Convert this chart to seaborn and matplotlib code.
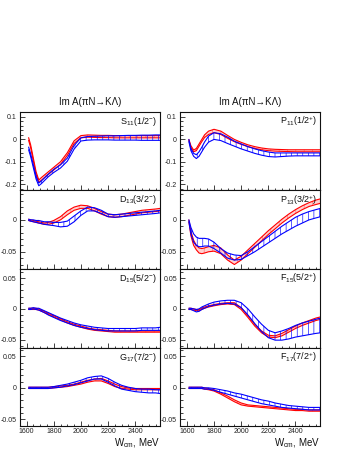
import matplotlib
matplotlib.use("Agg")
import matplotlib.pyplot as plt
from matplotlib.ticker import MultipleLocator, FuncFormatter
import pandas as pd
import seaborn as sns

# energy grid (MeV)
W = [1615, 1630, 1650, 1670, 1690, 1710, 1730, 1760, 1800, 1850, 1900, 1950, 2000,
     2050, 2100, 2150, 2200, 2250, 2300, 2350, 2400, 2450, 2500, 2550, 2585]

# S11(1/2-)
s11_red_lo = [-0.004, -0.036, -0.096, -0.156, -0.190, -0.181, -0.171, -0.156, -0.136, -0.111, -0.071, -0.018, 0.007,
              0.010, 0.009, 0.008, 0.008, 0.007, 0.007, 0.007, 0.007, 0.007, 0.007, 0.007, 0.007]
s11_red_hi = [0.008, -0.024, -0.084, -0.144, -0.180, -0.169, -0.159, -0.144, -0.124, -0.099, -0.059, -0.006, 0.017,
              0.020, 0.019, 0.018, 0.018, 0.017, 0.017, 0.017, 0.017, 0.017, 0.017, 0.017, 0.017]
s11_blue_lo = [-0.046, -0.076, -0.126, -0.176, -0.206, -0.196, -0.184, -0.166, -0.147, -0.127, -0.097, -0.043, -0.007,
               -0.003, -0.002, -0.002, -0.002, -0.003, -0.003, -0.003, -0.003, -0.004, -0.004, -0.004, -0.004]
s11_blue_hi = [-0.034, -0.064, -0.114, -0.164, -0.194, -0.184, -0.172, -0.154, -0.133, -0.113, -0.083, -0.027, 0.007,
               0.013, 0.014, 0.015, 0.016, 0.016, 0.017, 0.018, 0.018, 0.019, 0.019, 0.020, 0.020]

# P11(1/2+)
p11_red_lo = [-0.005, -0.035, -0.055, -0.050, -0.030, -0.010, 0.008, 0.022, 0.030, 0.022, 0.005, -0.010, -0.022,
              -0.032, -0.040, -0.046, -0.050, -0.052, -0.053, -0.054, -0.055, -0.055, -0.055, -0.055, -0.055]
p11_red_hi = [0.000, -0.028, -0.047, -0.040, -0.020, 0.000, 0.020, 0.037, 0.045, 0.037, 0.018, 0.000, -0.013,
              -0.024, -0.032, -0.038, -0.042, -0.044, -0.045, -0.046, -0.046, -0.046, -0.046, -0.046, -0.046]
p11_blue_lo = [-0.010, -0.050, -0.075, -0.085, -0.075, -0.055, -0.035, -0.012, 0.000, -0.005, -0.018, -0.030, -0.042,
               -0.052, -0.062, -0.070, -0.076, -0.078, -0.076, -0.074, -0.073, -0.073, -0.073, -0.073, -0.073]
p11_blue_hi = [0.000, -0.040, -0.062, -0.068, -0.055, -0.035, -0.012, 0.015, 0.030, 0.025, 0.010, -0.008, -0.020,
               -0.032, -0.042, -0.050, -0.056, -0.060, -0.060, -0.060, -0.060, -0.060, -0.060, -0.060, -0.060]

# D13(3/2-)
d13_red_lo = [-0.001, -0.002, -0.003, -0.004, -0.005, -0.006, -0.007, -0.007, -0.005, 0.000, 0.008, 0.015, 0.018,
              0.018, 0.014, 0.009, 0.005, 0.004, 0.005, 0.007, 0.009, 0.011, 0.012, 0.013, 0.014]
d13_red_hi = [0.001, 0.000, -0.001, -0.002, -0.003, -0.004, -0.005, -0.004, -0.001, 0.005, 0.014, 0.020, 0.023,
              0.022, 0.018, 0.013, 0.009, 0.008, 0.009, 0.011, 0.013, 0.015, 0.016, 0.017, 0.018]
d13_blue_lo = [-0.001, -0.002, -0.003, -0.004, -0.005, -0.006, -0.007, -0.008, -0.009, -0.011, -0.010, -0.003, 0.007,
               0.014, 0.014, 0.010, 0.005, 0.004, 0.005, 0.006, 0.007, 0.008, 0.009, 0.010, 0.011]
d13_blue_hi = [0.001, 0.000, 0.000, -0.001, -0.001, -0.002, -0.003, -0.003, -0.004, -0.004, -0.002, 0.006, 0.014,
               0.020, 0.019, 0.015, 0.009, 0.008, 0.009, 0.010, 0.011, 0.012, 0.013, 0.014, 0.015]

# P13(3/2+)
p13_red_lo = [-0.003, -0.025, -0.040, -0.047, -0.052, -0.053, -0.052, -0.050, -0.049, -0.053, -0.063, -0.070, -0.063,
              -0.053, -0.043, -0.033, -0.023, -0.014, -0.005, 0.003, 0.010, 0.016, 0.021, 0.024, 0.026]
p13_red_hi = [0.000, -0.018, -0.032, -0.040, -0.044, -0.045, -0.044, -0.042, -0.040, -0.044, -0.055, -0.063, -0.057,
              -0.047, -0.037, -0.027, -0.017, -0.008, 0.001, 0.009, 0.016, 0.022, 0.027, 0.031, 0.033]
p13_blue_lo = [-0.003, -0.022, -0.035, -0.040, -0.042, -0.042, -0.041, -0.041, -0.045, -0.052, -0.060, -0.063, -0.062,
               -0.056, -0.050, -0.043, -0.036, -0.029, -0.022, -0.016, -0.010, -0.005, 0.000, 0.003, 0.005]
p13_blue_hi = [0.000, -0.012, -0.022, -0.027, -0.029, -0.029, -0.029, -0.030, -0.035, -0.045, -0.052, -0.055, -0.056,
               -0.050, -0.042, -0.034, -0.026, -0.018, -0.010, -0.003, 0.004, 0.009, 0.013, 0.016, 0.018]

# D15(5/2-)
d15_red_lo = [-0.001, -0.001, -0.001, -0.001, -0.002, -0.004, -0.006, -0.009, -0.013, -0.018, -0.023, -0.027, -0.030,
              -0.033, -0.035, -0.036, -0.037, -0.038, -0.038, -0.038, -0.038, -0.038, -0.038, -0.038, -0.038]
d15_red_hi = [0.001, 0.001, 0.001, 0.001, 0.000, -0.002, -0.004, -0.007, -0.011, -0.016, -0.021, -0.025, -0.028,
              -0.031, -0.033, -0.034, -0.035, -0.036, -0.036, -0.036, -0.036, -0.036, -0.036, -0.036, -0.036]
d15_blue_lo = [-0.001, -0.001, 0.000, -0.001, -0.002, -0.004, -0.006, -0.010, -0.014, -0.019, -0.023, -0.027, -0.030,
               -0.032, -0.034, -0.035, -0.036, -0.036, -0.036, -0.036, -0.036, -0.035, -0.035, -0.035, -0.035]
d15_blue_hi = [0.001, 0.001, 0.002, 0.001, 0.001, -0.001, -0.003, -0.006, -0.010, -0.015, -0.019, -0.023, -0.026,
               -0.028, -0.030, -0.031, -0.032, -0.032, -0.032, -0.032, -0.032, -0.031, -0.031, -0.031, -0.030]

# F15(5/2+)
f15_red_lo = [-0.001, -0.001, -0.002, -0.003, -0.003, -0.001, 0.001, 0.003, 0.005, 0.007, 0.008, 0.007, -0.001,
              -0.014, -0.028, -0.039, -0.046, -0.047, -0.044, -0.038, -0.032, -0.027, -0.023, -0.019, -0.017]
f15_red_hi = [0.001, 0.001, 0.000, -0.001, -0.001, 0.001, 0.003, 0.005, 0.007, 0.009, 0.010, 0.010, 0.002,
              -0.011, -0.025, -0.036, -0.043, -0.044, -0.040, -0.034, -0.028, -0.023, -0.019, -0.015, -0.013]
f15_blue_lo = [-0.001, -0.001, -0.003, -0.005, -0.004, -0.001, 0.001, 0.004, 0.006, 0.008, 0.009, 0.008, 0.002,
               -0.010, -0.024, -0.037, -0.047, -0.051, -0.051, -0.049, -0.046, -0.044, -0.042, -0.040, -0.039]
f15_blue_hi = [0.001, 0.001, 0.000, -0.001, 0.000, 0.003, 0.005, 0.008, 0.011, 0.013, 0.014, 0.014, 0.010,
               0.000, -0.013, -0.025, -0.035, -0.039, -0.036, -0.032, -0.027, -0.023, -0.020, -0.017, -0.015]

# G17(7/2-)
g17_red_lo = [-0.001, -0.001, -0.001, -0.001, -0.001, -0.001, -0.001, -0.001, 0.000, 0.001, 0.002, 0.004, 0.006,
              0.009, 0.011, 0.011, 0.007, 0.002, -0.001, -0.002, -0.003, -0.003, -0.003, -0.003, -0.003]
g17_red_hi = [0.001, 0.001, 0.001, 0.001, 0.001, 0.001, 0.001, 0.001, 0.002, 0.003, 0.004, 0.006, 0.009,
              0.012, 0.014, 0.015, 0.011, 0.006, 0.002, 0.000, -0.001, -0.001, -0.001, -0.001, -0.001]
g17_blue_lo = [-0.001, -0.001, -0.001, -0.001, -0.001, -0.001, -0.001, -0.001, 0.000, 0.001, 0.003, 0.005, 0.008,
               0.011, 0.014, 0.014, 0.009, 0.003, -0.002, -0.004, -0.006, -0.007, -0.008, -0.008, -0.009]
g17_blue_hi = [0.001, 0.001, 0.001, 0.001, 0.001, 0.001, 0.001, 0.001, 0.002, 0.004, 0.006, 0.009, 0.012,
               0.016, 0.018, 0.019, 0.015, 0.009, 0.004, 0.001, -0.001, -0.002, -0.002, -0.003, -0.003]

# F17(7/2+)
f17_red_lo = [-0.001, -0.001, -0.001, -0.001, -0.001, -0.001, -0.002, -0.003, -0.005, -0.010, -0.016, -0.022, -0.027,
              -0.029, -0.030, -0.031, -0.032, -0.033, -0.034, -0.035, -0.036, -0.036, -0.037, -0.037, -0.037]
f17_red_hi = [0.001, 0.001, 0.001, 0.001, 0.001, 0.001, 0.000, -0.001, -0.003, -0.008, -0.013, -0.019, -0.024,
              -0.027, -0.028, -0.029, -0.030, -0.031, -0.032, -0.033, -0.034, -0.034, -0.035, -0.035, -0.035]
f17_blue_lo = [-0.001, -0.001, -0.001, -0.001, -0.001, -0.001, -0.002, -0.002, -0.004, -0.007, -0.010, -0.013, -0.016,
               -0.019, -0.022, -0.025, -0.027, -0.029, -0.031, -0.032, -0.033, -0.034, -0.035, -0.035, -0.035]
f17_blue_hi = [0.001, 0.001, 0.001, 0.001, 0.001, 0.001, 0.000, 0.000, -0.001, -0.003, -0.005, -0.008, -0.010,
               -0.013, -0.016, -0.019, -0.021, -0.024, -0.026, -0.028, -0.029, -0.030, -0.031, -0.031, -0.031]

panel_labels = [r"S$_{\mathrm{11}}$(1/2$^{-}$)", r"P$_{\mathrm{11}}$(1/2$^{+}$)",
                r"D$_{\mathrm{13}}$(3/2$^{-}$)", r"P$_{\mathrm{13}}$(3/2$^{+}$)",
                r"D$_{\mathrm{15}}$(5/2$^{-}$)", r"F$_{\mathrm{15}}$(5/2$^{+}$)",
                r"G$_{\mathrm{17}}$(7/2$^{-}$)", r"F$_{\mathrm{17}}$(7/2$^{+}$)"]
bands = [(s11_red_lo, s11_red_hi, s11_blue_lo, s11_blue_hi),
         (p11_red_lo, p11_red_hi, p11_blue_lo, p11_blue_hi),
         (d13_red_lo, d13_red_hi, d13_blue_lo, d13_blue_hi),
         (p13_red_lo, p13_red_hi, p13_blue_lo, p13_blue_hi),
         (d15_red_lo, d15_red_hi, d15_blue_lo, d15_blue_hi),
         (f15_red_lo, f15_red_hi, f15_blue_lo, f15_blue_hi),
         (g17_red_lo, g17_red_hi, g17_blue_lo, g17_blue_hi),
         (f17_red_lo, f17_red_hi, f17_blue_lo, f17_blue_hi)]
row_ylims = [(-0.227, 0.122), (-0.077, 0.046), (-0.063, 0.065), (-0.0605, 0.064)]
row_major = [0.1, 0.05, 0.05, 0.05]
row_minor = [0.02, 0.01, 0.01, 0.01]
x_ticks = [1600, 1800, 2000, 2200, 2400]
title = "Im A(\u03c0N\u2192K\u039b)"

sns.set_style("ticks")
plt.rcParams["font.family"] = ["Liberation Sans", "DejaVu Sans"]
plt.rcParams["mathtext.fontset"] = "custom"
plt.rcParams["mathtext.rm"] = "Liberation Sans"
plt.rcParams["mathtext.it"] = "Liberation Sans:italic"
plt.rcParams["hatch.linewidth"] = 0.45

fig, axes = plt.subplots(4, 2, figsize=(3.49, 4.51), dpi=100, sharex=True)
fig.subplots_adjust(left=0.0559, right=0.9183, top=0.7517, bottom=0.0554, wspace=0.139, hspace=0)

fmt = FuncFormatter(lambda v, p: "%g" % round(v, 4))

for i, ax in enumerate(axes.flat):
    row = i // 2
    r_lo, r_hi, b_lo, b_hi = bands[i]
    df = pd.DataFrame({"W": W, "r_lo": r_lo, "r_hi": r_hi, "b_lo": b_lo, "b_hi": b_hi})

    # red band: outline plus light fill
    ax.fill_between(df["W"], df["r_lo"], df["r_hi"], facecolor="#ffd0d0", edgecolor="#ff7070",
                    hatch="||", linewidth=0, zorder=2)
    sns.lineplot(data=df, x="W", y="r_lo", color="#ff0000", lw=0.8, ax=ax, zorder=3)
    sns.lineplot(data=df, x="W", y="r_hi", color="#ff0000", lw=0.8, ax=ax, zorder=3)

    # blue band: outline plus vertical hatching
    ax.fill_between(df["W"], df["b_lo"], df["b_hi"], facecolor="none", edgecolor="#0000ff",
                    hatch="|||", linewidth=0, zorder=4)
    sns.lineplot(data=df, x="W", y="b_lo", color="#0000ff", lw=0.8, ax=ax, zorder=5)
    sns.lineplot(data=df, x="W", y="b_hi", color="#0000ff", lw=0.8, ax=ax, zorder=5)

    ax.set_xlim(1548, 2584)
    ax.set_ylim(*row_ylims[row])
    ax.set_xlabel("")
    ax.set_ylabel("")
    ax.xaxis.set_major_locator(MultipleLocator(200))
    ax.xaxis.set_minor_locator(MultipleLocator(50))
    ax.yaxis.set_major_locator(MultipleLocator(row_major[row]))
    ax.yaxis.set_minor_locator(MultipleLocator(row_minor[row]))
    ax.yaxis.set_major_formatter(fmt)
    ax.tick_params(which="both", direction="in", labelsize=5, pad=2, width=0.6,
                   top=False, right=False, colors="#222222")
    ax.tick_params(which="major", length=3.5)
    ax.tick_params(which="minor", length=1.8)
    for sp in ax.spines.values():
        sp.set_linewidth(0.8)
        sp.set_color("#111111")

    ax.text(0.976, 0.879, panel_labels[i], transform=ax.transAxes, ha="right", va="center",
            fontsize=6.5, color="#111111")

for ax in axes[-1]:
    ax.set_xticks(x_ticks)
    ax.set_xticklabels([str(t) for t in x_ticks])
    ax.tick_params(axis="x", pad=1.5)
    ax.text(1.0, -0.215, r"W$_{\mathrm{cm}}$, MeV", transform=ax.transAxes, ha="right", va="center",
            fontsize=7, color="#111111")

fig.text(89.75 / 349, 1 - 101.7 / 451, title, ha="center", va="center", fontsize=7, color="#111111")
fig.text(250.25 / 349, 1 - 101.7 / 451, title, ha="center", va="center", fontsize=7, color="#111111")

fig.savefig("out.png", dpi=100)
